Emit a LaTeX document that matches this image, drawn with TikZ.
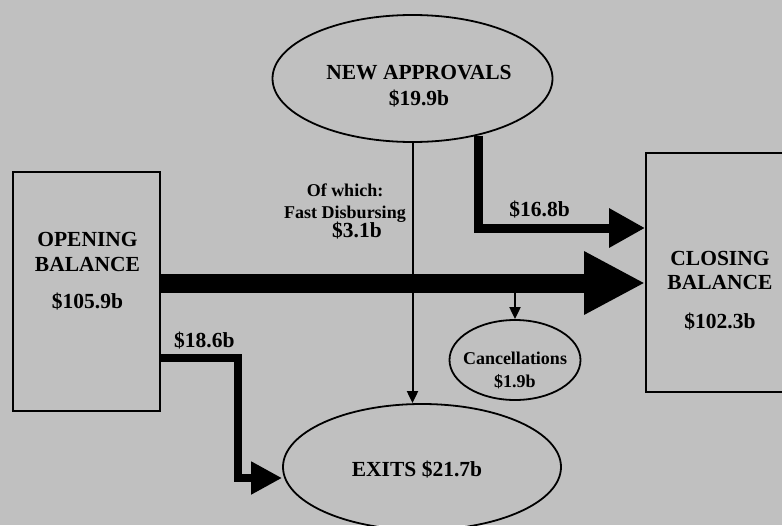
\documentclass[tikz,border=0pt]{standalone}
\usepackage{fontspec}
\setmainfont{Liberation Serif}
\usetikzlibrary{arrows.meta,shapes.geometric}
\definecolor{panelgray}{HTML}{C0C0C0}

\begin{document}
\begin{tikzpicture}[
x=1pt, y=-1pt,
box/.style={
  draw,
  line width=1.8pt,
  minimum width=147pt,
  minimum height=239pt
  },
oval/.style={draw, ellipse, line width=1.8pt, inner sep=0pt},
bigtext/.style={font=\fontsize{21.5}{25}\selectfont\bfseries, align=center, inner sep=0pt},
smalltext/.style={font=\fontsize{18}{22}\selectfont\bfseries, align=center, inner sep=0pt},
thinflow/.style={line width=2pt, -{Triangle[length=12pt,width=11pt]}},
mainflow/.style={line width=19pt, -{Triangle[length=61pt,width=59pt]}}
]
\useasboundingbox (0,0) rectangle (782,525);
\clip (0,0) rectangle (782,525);
\fill[panelgray] (0,0) rectangle (782,525);

% balances and flows
\node[box] (ob) at (86.5,291.5) {};
\node[box, minimum width=148pt] (cb) at (720,272.5) {};
\node[oval, minimum width=280pt, minimum height=127pt] (na) at (412.5,78.5) {};
\node[oval, minimum width=278pt, minimum height=126pt] (ex) at (422,467) {};
\node[oval, minimum width=131pt, minimum height=80pt] (ca) at (515,360) {};

\node[bigtext] (obtext) at ([shift={(1,-20.5)}]ob.center) {OPENING\\BALANCE\\[12pt]\$105.9b};
\node[bigtext, font=\fontsize{21.5}{24}\selectfont\bfseries] (cbtext) at ([shift={(0,18.5)}]cb.center) {CLOSING\\BALANCE\\[15pt]\$102.3b};
\node[bigtext, font=\fontsize{21.5}{26}\selectfont\bfseries] (natext) at ([shift={(6.5,7.5)}]na.center) {NEW APPROVALS\\\$19.9b};
\node[bigtext] (extext) at ([shift={(-5,3)}]ex.center) {EXITS \$21.7b};
\node[smalltext, font=\fontsize{18}{23}\selectfont\bfseries] (catext) at ([shift={(0,10)}]ca.center) {Cancellations\\\$1.9b};
\node[smalltext] (fdtext) at (345,211) {Of which:\\Fast Disbursing\\[-3pt]{\fontsize{21.5}{21.5}\selectfont\hspace*{24pt}\$3.1b}};

\draw[thinflow] (na.south) -- (na.south |- ex.north);
\draw[mainflow] ([yshift=8.5pt]ob.east) -- ([yshift=-10.5pt]cb.west);
\draw[line width=9pt, -{Triangle[length=36pt,width=37pt]}]
  (na.-41) |- node[bigtext, pos=0.684, anchor=base, yshift=12pt] {\$16.8b} ([yshift=44.5pt]cb.west);
\draw[line width=8.5pt, -{Triangle[length=31pt,width=31pt]}]
  ([yshift=-66.5pt]ob.east) -- node[bigtext, pos=0.565, anchor=base, yshift=11pt] {\$18.6b} ++(77,0) |- ([yshift=-11pt]ex.west);
\path (ca.north) ++(0,-28) coordinate (cut);
\draw[thinflow] (cut) -- (ca.north);
\end{tikzpicture}
\end{document}
